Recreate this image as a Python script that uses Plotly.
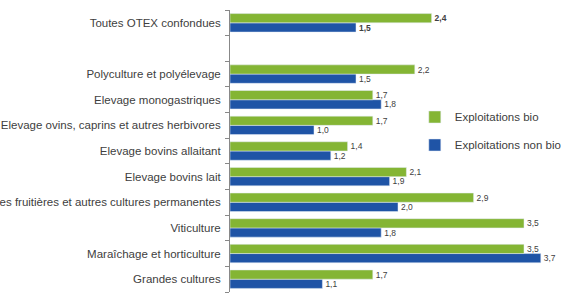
import plotly.graph_objects as go

categories = ["Grandes cultures", "Maraîchage et horticulture", "Viticulture",
              "Cultures fruitières et autres cultures permanentes", "Elevage bovins lait",
              "Elevage bovins allaitant", "Elevage ovins, caprins et autres herbivores",
              "Elevage monogastriques", "Polyculture et polyélevage", " ",
              "Toutes OTEX confondues"]
bio = [1.7, 3.5, 3.5, 2.9, 2.1, 1.4, 1.7, 1.7, 2.2, None, 2.4]
non_bio = [1.1, 3.7, 1.8, 2.0, 1.9, 1.2, 1.0, 1.8, 1.5, None, 1.5]

def fmt(v, bold=False):
    if v is None:
        return ""
    s = f"{v:.1f}".replace(".", ",")
    return f"<b>{s}</b>" if bold else s

bio_text = [fmt(v, c.startswith("Toutes")) for v, c in zip(bio, categories)]
non_text = [fmt(v, c.startswith("Toutes")) for v, c in zip(non_bio, categories)]

fig = go.Figure()
fig.add_trace(go.Bar(y=categories, x=non_bio, orientation="h", name="Exploitations non bio",
                     marker=dict(color="#1F54A6"), text=non_text, textposition="outside",
                     textfont=dict(color="#404040", size=11), cliponaxis=False,
                     legendrank=2, legendgroup="b"))
fig.add_trace(go.Bar(y=categories, x=bio, orientation="h", name="Exploitations bio",
                     marker=dict(color="#84B534"), text=bio_text, textposition="outside",
                     textfont=dict(color="#404040", size=11), cliponaxis=False,
                     legendrank=1, legendgroup="a"))

fig.update_layout(
    width=566, height=300,
    margin=dict(l=230, r=0, t=10, b=8, autoexpand=False),
    paper_bgcolor="white", plot_bgcolor="white",
    barmode="group", bargap=0.28, bargroupgap=0,
    font=dict(family="Liberation Sans", size=10, color="#404040"),
    showlegend=True,
    legend=dict(x=0.55, y=0.672, xanchor="left", yanchor="top",
                font=dict(size=11.5, color="#404040"), tracegroupgap=9,
                bgcolor="rgba(0,0,0,0)", itemwidth=30),
    xaxis=dict(range=[0, 4.0], visible=False, showgrid=False, zeroline=False),
    yaxis=dict(type="category", categoryorder="array", categoryarray=categories,
               tickson="boundaries", ticks="outside", ticklen=4, tickcolor="#888888",
               showline=True, linecolor="#888888", linewidth=1, showgrid=False,
               ticklabelstandoff=6, tickfont=dict(size=11.5, color="#404040"),
               automargin=False),
)
fig.write_html("out.html")
